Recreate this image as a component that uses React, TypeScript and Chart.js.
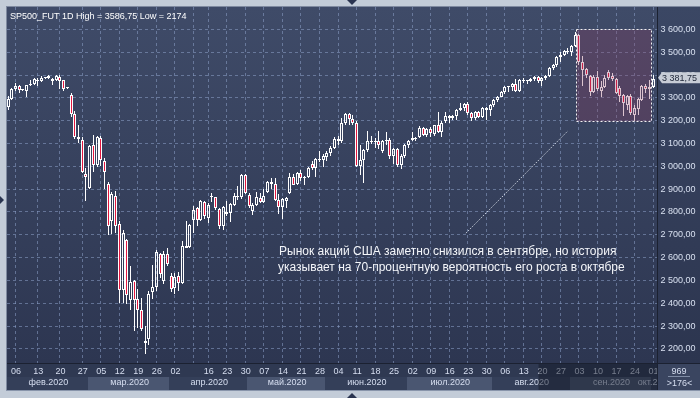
import React, { useEffect, useRef } from 'react';
import { Chart, registerables } from 'chart.js';

Chart.register(...registerables);

// ---- Data (bar index 0 = first visible bar, Feb 2020 ... Oct 1 2020) ----
const openPrices = [
  3258, 3295, 3335, 3350, 3332, 3326, 3355, 3360, 3374, 3373,
  3385, 3384, 3381, 3377, 3391, 3376, 3340, 3310, 3226, 3128,
  3115, 2965, 2905, 3090, 3005, 3120, 3020, 2920, 2760, 2870,
  2744, 2455, 2675, 2410, 2495, 2415, 2370, 2230, 2240, 2445,
  2470, 2615, 2495, 2615, 2515, 2465, 2515, 2485, 2650, 2645,
  2763, 2815, 2763, 2840, 2770, 2865, 2862, 2810, 2735, 2796,
  2793, 2830, 2868, 2865, 2958, 2872, 2800, 2830, 2860, 2840,
  2885, 2930, 2922, 2850, 2818, 2845, 2880, 2950, 2920, 2970,
  2945, 2950, 3010, 2990, 3030, 3025, 3040, 3055, 3078, 3118,
  3110, 3190, 3228, 3205, 3190, 3000, 3025, 3068, 3110, 3105,
  3110, 3065, 3110, 3115, 3045, 3075, 3005, 3045, 3090, 3122,
  3118, 3125, 3165, 3135, 3162, 3140, 3180, 3150, 3195, 3220,
  3208, 3218, 3245, 3255, 3270, 3232, 3210, 3235, 3213, 3255,
  3245, 3265, 3290, 3302, 3325, 3345, 3347, 3357, 3330, 3377,
  3370, 3372, 3382, 3388, 3372, 3385, 3395, 3428, 3442, 3478,
  3485, 3505, 3497, 3527, 3575, 3455, 3425, 3395, 3325, 3390,
  3330, 3345, 3410, 3395, 3380, 3340, 3310, 3265, 3305, 3225,
  3248, 3290, 3348, 3335, 3345,
];
const highPrices = [
  3305, 3342, 3362, 3353, 3336, 3356, 3375, 3385, 3385, 3395,
  3388, 3400, 3384, 3400, 3397, 3378, 3345, 3318, 3240, 3179,
  3125, 2990, 3092, 3137, 3132, 3130, 3035, 2930, 2885, 2890,
  2760, 2720, 2680, 2560, 2500, 2460, 2420, 2300, 2450, 2565,
  2630, 2620, 2625, 2640, 2530, 2530, 2535, 2670, 2760, 2745,
  2822, 2820, 2850, 2845, 2835, 2880, 2865, 2815, 2825, 2845,
  2837, 2880, 2912, 2965, 2965, 2880, 2835, 2885, 2880, 2900,
  2935, 2945, 2945, 2875, 2858, 2865, 2968, 2965, 2975, 2980,
  2955, 2995, 3022, 3035, 3065, 3050, 3065, 3085, 3128, 3130,
  3210, 3232, 3230, 3225, 3195, 3090, 3075, 3155, 3130, 3120,
  3155, 3115, 3150, 3120, 3080, 3080, 3050, 3095, 3115, 3150,
  3125, 3175, 3170, 3165, 3170, 3180, 3235, 3195, 3235, 3225,
  3225, 3250, 3275, 3275, 3280, 3235, 3240, 3240, 3260, 3260,
  3270, 3295, 3305, 3330, 3350, 3350, 3362, 3380, 3380, 3385,
  3378, 3385, 3392, 3396, 3388, 3400, 3435, 3448, 3482, 3500,
  3510, 3515, 3530, 3586.75, 3578, 3480, 3430, 3400, 3400, 3415,
  3370, 3400, 3420, 3405, 3385, 3350, 3315, 3312, 3315, 3265,
  3298, 3355, 3358, 3375, 3397,
];
const lowPrices = [
  3245, 3290, 3326, 3318, 3326, 3303, 3350, 3355, 3352, 3366,
  3380, 3380, 3355, 3370, 3338, 3328, 3336, 3215, 3118, 3099,
  2970, 2847, 2900, 2975, 2995, 3000, 2900, 2697, 2700, 2705,
  2400, 2400, 2395, 2370, 2275, 2290, 2275, 2174, 2215, 2415,
  2450, 2510, 2480, 2560, 2445, 2440, 2450, 2480, 2640, 2640,
  2705, 2735, 2760, 2765, 2750, 2840, 2805, 2722, 2717, 2780,
  2756, 2825, 2850, 2855, 2875, 2815, 2785, 2825, 2835, 2835,
  2880, 2900, 2845, 2790, 2765, 2815, 2875, 2915, 2915, 2935,
  2915, 2945, 2980, 2950, 3015, 2995, 3020, 3045, 3075, 3090,
  3100, 3180, 3180, 3180, 2995, 2960, 2925, 3060, 3095, 3080,
  3075, 3055, 3090, 3030, 3010, 2995, 2985, 3035, 3080, 3110,
  3110, 3120, 3130, 3125, 3125, 3130, 3145, 3125, 3190, 3190,
  3200, 3200, 3240, 3240, 3225, 3195, 3200, 3210, 3210, 3200,
  3220, 3260, 3280, 3300, 3315, 3325, 3330, 3325, 3325, 3365,
  3360, 3368, 3370, 3365, 3350, 3375, 3390, 3420, 3435, 3455,
  3480, 3490, 3480, 3520, 3440, 3350, 3385, 3305, 3320, 3330,
  3300, 3340, 3378, 3370, 3315, 3280, 3220, 3245, 3225, 3196,
  3225, 3285, 3320, 3292, 3340,
];
const closePrices = [
  3295, 3335, 3350, 3332, 3333, 3354, 3358, 3380, 3377, 3387,
  3384, 3396, 3374, 3394, 3374, 3337, 3343, 3226, 3128, 3116,
  2975, 2950, 3088, 3005, 3128, 3025, 2975, 2736, 2875, 2735,
  2455, 2705, 2434, 2490, 2410, 2369, 2283, 2222, 2440, 2470,
  2622, 2525, 2615, 2570, 2460, 2512, 2485, 2650, 2640, 2740,
  2807, 2763, 2845, 2780, 2830, 2867, 2815, 2735, 2820, 2790,
  2833, 2868, 2862, 2958, 2880, 2825, 2830, 2862, 2840, 2870,
  2930, 2922, 2850, 2820, 2855, 2860, 2950, 2918, 2970, 2945,
  2950, 2990, 2990, 3030, 3025, 3045, 3055, 3078, 3118, 3110,
  3190, 3228, 3205, 3190, 3000, 3025, 3068, 3110, 3105, 3110,
  3090, 3110, 3115, 3045, 3075, 3005, 3045, 3090, 3110, 3115,
  3120, 3165, 3135, 3162, 3145, 3178, 3150, 3190, 3220, 3208,
  3218, 3245, 3255, 3270, 3232, 3210, 3235, 3213, 3255, 3245,
  3265, 3290, 3302, 3325, 3345, 3347, 3357, 3330, 3377, 3370,
  3372, 3382, 3388, 3372, 3385, 3395, 3428, 3442, 3478, 3485,
  3505, 3497, 3527, 3575, 3455, 3420, 3400, 3325, 3390, 3335,
  3345, 3385, 3385, 3380, 3320, 3305, 3275, 3305, 3232, 3252,
  3292, 3350, 3335, 3347, 3381.75,
];

const weekTickIndex = [2, 8, 14, 20, 25, 30, 35, 40, 45, 50, 54, 59, 64, 69, 74, 79, 84, 89, 94, 99, 104, 109, 114, 119, 124, 129, 134, 139, 144, 149, 154, 159, 164, 169, 174];
const weekTickLabels = ['06', '13', '20', '27', '05', '12', '19', '26', '02', '', '16', '23', '30', '07', '14', '21', '28', '04', '11', '18', '25', '02', '09', '16', '23', '30', '06', '13', '20', '27', '03', '10', '17', '24', '01'];
const monthStartIndex = [0, 22, 44, 65, 86, 108, 131, 152, 174];
const monthLabels = ['фев.2020', 'мар.2020', 'апр.2020', 'май.2020', 'июн.2020', 'июл.2020', 'авг.2020', 'сен.2020', 'окт.2020'];
const priceTicks = [2200, 2300, 2400, 2500, 2600, 2700, 2800, 2900, 3000, 3100, 3200, 3300, 3400, 3500, 3600];
const lastPrice = 3381.75;
const titleText = 'SP500_FUT 1D High = 3586,75 Low = 2174';
const noteLines = ['Рынок акций США заметно снизился в сентябре, но история', 'указывает на 70-процентную вероятность его роста в октябре'];
const counterTop = '969';
const counterBottom = '>176<';
// highlighted region (bar index / price) and trend dotted line
const boxRange = { x1: 153.3, x2: 173.3, y1: 3600, y2: 3197 };
const trendLine = { x1: 123.5, y1: 2705, x2: 151.0, y2: 3153 };
const dimFromIndex = 143.1;

const FONT = "'Liberation Sans', Arial, sans-serif";
const RED = '#e3163f';

function fmtPrice(v: number) {
  const [ip, dp] = v.toFixed(2).split('.');
  return ip.slice(0, -3) + ' ' + ip.slice(-3) + ',' + dp;
}

const framePlugin = {
  id: 'framePlugin',
  afterDatasetsUpdate(chart: any) {
    // snap candle elements to whole pixels so they render crisp
    chart.data.datasets.forEach((ds: any, d: number) => {
      const meta = chart.getDatasetMeta(d);
      meta.data.forEach((el: any) => {
        el.x = Math.floor(el.x) + 0.5;
        el.y = Math.round(el.y);
        el.base = Math.round(el.base);
        if (ds.label === 'body' && Math.abs(el.y - el.base) < 1) el.base = el.y + 1;
      });
    });
  },
  beforeDraw(chart: any) {
    const { ctx, chartArea: a } = chart;
    const W = chart.width, H = chart.height;
    const axisBottom = a.bottom + 27;
    ctx.save();
    ctx.fillStyle = '#c3ccd8';
    ctx.fillRect(0, 0, W, H);
    ctx.fillStyle = '#7f8aa0';
    ctx.fillRect(a.left - 1, a.top - 1, W - a.left + 1, axisBottom - a.top + 2);
    const g = ctx.createLinearGradient(0, a.top, 0, a.bottom);
    g.addColorStop(0, '#3f4b68');
    g.addColorStop(1, '#2d3651');
    ctx.fillStyle = g;
    ctx.fillRect(a.left, a.top, W - a.left, a.bottom - a.top);
    ctx.restore();
  },
  beforeDatasetsDraw(chart: any) {
    const { ctx, chartArea: a, scales } = chart;
    const xs = scales.x, ys = scales.y;
    ctx.save();
    ctx.beginPath();
    ctx.rect(a.left, a.top, a.right - a.left, a.bottom - a.top);
    ctx.clip();
    ctx.strokeStyle = 'rgba(140,160,200,0.55)';
    ctx.lineWidth = 1;
    ctx.setLineDash([3, 3]);
    priceTicks.forEach((p) => {
      const y = Math.round(ys.getPixelForValue(p)) + 0.5;
      ctx.beginPath();
      ctx.moveTo(a.left, y);
      ctx.lineTo(a.right, y);
      ctx.stroke();
    });
    weekTickIndex.forEach((i) => {
      const x = Math.floor(xs.getPixelForValue(i)) + 0.5;
      ctx.beginPath();
      ctx.moveTo(x, a.top);
      ctx.lineTo(x, a.bottom);
      ctx.stroke();
    });
    ctx.restore();
  },
  afterDatasetsDraw(chart: any) {
    const { ctx, chartArea: a, scales } = chart;
    const xs = scales.x, ys = scales.y;
    ctx.save();
    ctx.beginPath();
    ctx.rect(a.left, a.top, a.right - a.left, a.bottom - a.top);
    ctx.clip();
    // highlighted box
    const bx1 = Math.round(xs.getPixelForValue(boxRange.x1)) + 0.5;
    const bx2 = Math.round(xs.getPixelForValue(boxRange.x2)) + 0.5;
    const by1 = Math.round(ys.getPixelForValue(boxRange.y1)) + 0.5;
    const by2 = Math.round(ys.getPixelForValue(boxRange.y2)) + 0.5;
    ctx.fillStyle = 'rgba(140,60,95,0.3)';
    ctx.fillRect(bx1, by1, bx2 - bx1, by2 - by1);
    ctx.strokeStyle = '#f2f2f2';
    ctx.lineWidth = 1;
    ctx.setLineDash([2, 2]);
    ctx.strokeRect(bx1, by1, bx2 - bx1, by2 - by1);
    // dotted trend line
    ctx.strokeStyle = 'rgba(225,230,240,0.85)';
    ctx.setLineDash([1.5, 1.5]);
    ctx.beginPath();
    ctx.moveTo(xs.getPixelForValue(trendLine.x1), ys.getPixelForValue(trendLine.y1));
    ctx.lineTo(xs.getPixelForValue(trendLine.x2), ys.getPixelForValue(trendLine.y2));
    ctx.stroke();
    ctx.setLineDash([]);
    // title
    ctx.fillStyle = '#ffffff';
    ctx.font = `9px ${FONT}`;
    ctx.textBaseline = 'alphabetic';
    ctx.textAlign = 'left';
    ctx.fillText(titleText, 10, 18.5);
    // annotation
    ctx.font = `12px ${FONT}`;
    ctx.fillStyle = '#f4f6fa';
    ctx.fillText(noteLines[0], 279, 255);
    ctx.fillText(noteLines[1], 278, 270.5);
    ctx.restore();
  },
  afterDraw(chart: any) {
    const { ctx, chartArea: a, scales } = chart;
    const xs = scales.x, ys = scales.y;
    const W = chart.width, H = chart.height;
    const axisBottom = a.bottom + 27;
    const rowSplit = a.bottom + 14;
    ctx.save();
    // right axis background
    const g = ctx.createLinearGradient(0, a.top, 0, a.bottom);
    g.addColorStop(0, '#3b4764');
    g.addColorStop(1, '#2c354f');
    ctx.fillStyle = g;
    ctx.fillRect(a.right, a.top, W - a.right, a.bottom - a.top);
    // date axis
    ctx.fillStyle = '#2f3952';
    ctx.fillRect(a.left, a.bottom, W - a.left, axisBottom - a.bottom);
    ctx.save();
    ctx.beginPath();
    ctx.rect(a.left, a.bottom, a.right - a.left, axisBottom - a.bottom);
    ctx.clip();
    for (let k = 0; k < monthStartIndex.length; k++) {
      const x1 = Math.max(a.left, xs.getPixelForValue(monthStartIndex[k] - 0.5));
      const x2 = k + 1 < monthStartIndex.length ? xs.getPixelForValue(monthStartIndex[k + 1] - 0.5) : a.right;
      const x2c = Math.min(a.right, x2);
      ctx.fillStyle = k % 2 === 1 ? '#4a5671' : '#343f59';
      ctx.fillRect(Math.round(x1), rowSplit, Math.round(x2c) - Math.round(x1), axisBottom - rowSplit);
      ctx.fillStyle = '#d6def0';
      ctx.font = `9px ${FONT}`;
      ctx.textAlign = 'center';
      ctx.textBaseline = 'middle';
      ctx.fillText(monthLabels[k], (x1 + x2c) / 2 + 1, rowSplit + 6);
    }
    ctx.fillStyle = '#d6def0';
    ctx.font = `9px ${FONT}`;
    ctx.textAlign = 'center';
    ctx.textBaseline = 'middle';
    weekTickIndex.forEach((i, k) => {
      if (weekTickLabels[k]) ctx.fillText(weekTickLabels[k], xs.getPixelForValue(i) + 0.5, a.bottom + 8.5);
    });
    // dimmed range
    const dx = xs.getPixelForValue(dimFromIndex);
    ctx.fillStyle = 'rgba(20,25,40,0.5)';
    ctx.fillRect(dx, a.bottom, a.right - dx, axisBottom - a.bottom);
    ctx.restore();
    // bottom right box
    ctx.fillStyle = '#3a4560';
    ctx.fillRect(a.right, a.bottom, W - a.right, axisBottom - a.bottom);
    ctx.fillStyle = '#d6def0';
    ctx.font = `9px ${FONT}`;
    ctx.textAlign = 'center';
    ctx.textBaseline = 'middle';
    ctx.fillText(counterTop, 679, a.bottom + 8.5);
    ctx.fillText(counterBottom, 679.5, a.bottom + 20.5);
    ctx.fillStyle = '#7f8ca5';
    ctx.fillRect(668, a.bottom + 13, 22, 1);
    // separators
    ctx.fillStyle = '#1b2131';
    ctx.fillRect(a.left, a.bottom, W - a.left, 1);
    ctx.fillRect(a.right, a.top, 1, axisBottom - a.top);
    ctx.fillStyle = '#8995ab';
    ctx.fillRect(a.left - 1, axisBottom, W - a.left + 1, 1);
    // price labels
    ctx.fillStyle = '#d8e0f0';
    ctx.font = `9px ${FONT}`;
    ctx.textAlign = 'left';
    ctx.textBaseline = 'middle';
    priceTicks.forEach((p) => {
      ctx.fillText(fmtPrice(p), a.right + 3.5, ys.getPixelForValue(p) + 0.5);
    });
    // last price tag
    const ty = ys.getPixelForValue(lastPrice) - 1;
    ctx.fillStyle = '#c7ccd6';
    ctx.beginPath();
    ctx.moveTo(a.right + 1, ty);
    ctx.lineTo(a.right + 5, ty - 5.5);
    ctx.lineTo(W, ty - 5.5);
    ctx.lineTo(W, ty + 5.5);
    ctx.lineTo(a.right + 5, ty + 5.5);
    ctx.closePath();
    ctx.fill();
    ctx.fillStyle = '#222a3c';
    ctx.fillText(fmtPrice(lastPrice), a.right + 5, ty + 0.5);
    // frame markers
    ctx.fillStyle = '#2a3450';
    ctx.beginPath();
    ctx.moveTo(347, 0); ctx.lineTo(357, 0); ctx.lineTo(352, 5); ctx.closePath(); ctx.fill();
    ctx.beginPath();
    ctx.moveTo(347, H); ctx.lineTo(357, H); ctx.lineTo(352, H - 5); ctx.closePath(); ctx.fill();
    ctx.beginPath();
    ctx.moveTo(0, 196); ctx.lineTo(0, 204); ctx.lineTo(4, 200); ctx.closePath(); ctx.fill();
    ctx.restore();
  },
};

export default function App() {
  const canvasRef = useRef<HTMLCanvasElement | null>(null);

  useEffect(() => {
    const canvas = canvasRef.current;
    if (!canvas) return;
    const idx = closePrices.map((_, i) => i);
    const upperWick = idx.map((i) => ({ x: i, y: [Math.max(openPrices[i], closePrices[i]), highPrices[i]] }));
    const lowerWick = idx.map((i) => ({ x: i, y: [lowPrices[i], Math.min(openPrices[i], closePrices[i])] }));
    const bodies = idx.map((i) => ({ x: i, y: [openPrices[i], closePrices[i]] }));
    const bodyColors = idx.map((i) => (closePrices[i] >= openPrices[i] ? 'rgba(0,0,0,0)' : RED));

    const chart = new Chart(canvas, {
      type: 'bar',
      data: {
        datasets: [
          {
            label: 'upper',
            data: upperWick as any,
            backgroundColor: '#ffffff',
            borderWidth: 0,
            barThickness: 1,
            grouped: false,
            inflateAmount: 0,
            clip: 0,
            order: 3,
          } as any,
          {
            label: 'lower',
            data: lowerWick as any,
            backgroundColor: '#ffffff',
            borderWidth: 0,
            barThickness: 1,
            grouped: false,
            inflateAmount: 0,
            clip: 0,
            order: 2,
          } as any,
          {
            label: 'body',
            data: bodies as any,
            backgroundColor: bodyColors,
            borderColor: '#ffffff',
            borderWidth: 1,
            borderSkipped: false,
            barThickness: 3,
            minBarLength: 1,
            grouped: false,
            inflateAmount: 0,
            clip: 0,
            order: 1,
          } as any,
        ],
      },
      options: {
        responsive: false,
        devicePixelRatio: 1,
        animation: false,
        events: [],
        layout: { padding: { left: 7, top: 7, right: 43, bottom: 35 } },
        plugins: { legend: { display: false }, tooltip: { enabled: false }, title: { display: false } },
        scales: {
          x: { type: 'linear', display: false, offset: false, min: -0.297, max: 175.05 },
          y: { type: 'linear', display: false, min: 2135.7, max: 3696.45 },
        },
      } as any,
      plugins: [framePlugin as any],
    });
    return () => chart.destroy();
  }, []);

  return (
    <div style={{ position: 'fixed', left: 0, top: 0, width: 700, height: 398 }}>
      <canvas ref={canvasRef} width={700} height={398} style={{ display: 'block', width: 700, height: 398 }} />
    </div>
  );
}
